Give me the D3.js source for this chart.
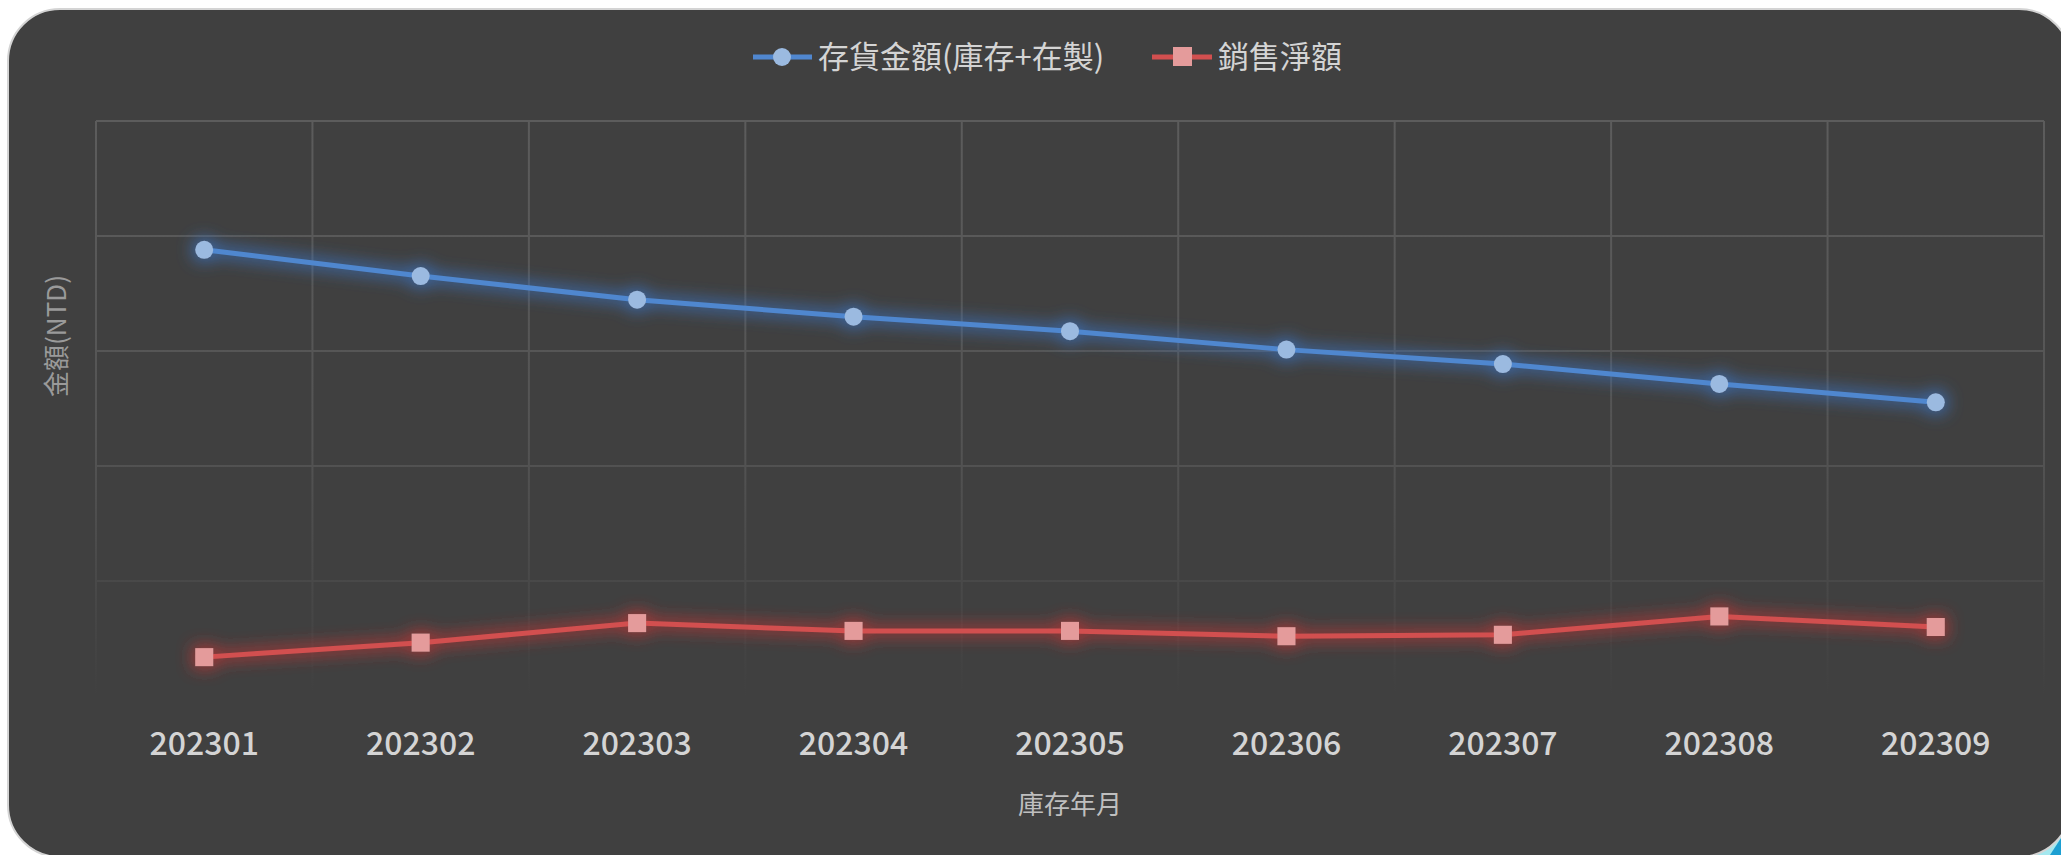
<!DOCTYPE html>
<html>
<head>
<meta charset="utf-8">
<script src="https://cdn.jsdelivr.net/npm/d3@7"></script>
<style>
  body { margin: 0; background: #fff; overflow: hidden; }
  text { font-family: "Noto Sans CJK TC", "Noto Sans", sans-serif; }
</style>
</head>
<body>
<script>
// data (values in 百萬 NTD, axis labels are hidden in the original)
const months = ["202301", "202302", "202303", "202304", "202305", "202306", "202307", "202308", "202309"];
const inventory = [194.0, 182.6, 172.3, 164.9, 158.6, 150.6, 144.3, 135.7, 127.7];
const sales = [16.9, 23.2, 31.7, 28.3, 28.3, 26.0, 26.6, 34.6, 30.0];
const yTicks = [0, 50, 100, 150, 200, 250];
const seriesNames = ["存貨金額(庫存+在製)", "銷售淨額"];

const W = 2061, H = 855;
const m = {top: 121, bottom: 159, left: 96, right: 17};

const svg = d3.select("body")
    .append("svg")
    .attr("width", W)
    .attr("height", H);

const defs = svg.append("defs");

const grad = defs.append("linearGradient")
    .attr("id", "gridFade")
    .attr("gradientUnits", "userSpaceOnUse")
    .attr("x1", 0).attr("x2", 0)
    .attr("y1", m.top).attr("y2", H - m.bottom);
grad.append("stop").attr("offset", "0%").attr("stop-color", "#5c5c5c");
grad.append("stop").attr("offset", "55%").attr("stop-color", "#545454");
grad.append("stop").attr("offset", "100%").attr("stop-color", "#404040");

function glow(id, color) {
    const f = defs.append("filter").attr("id", id)
        .attr("x", "-10%").attr("y", "-80%").attr("width", "120%").attr("height", "260%");
    f.append("feMorphology").attr("in", "SourceAlpha").attr("operator", "dilate").attr("radius", 3).attr("result", "d");
    f.append("feGaussianBlur").attr("in", "d").attr("stdDeviation", 8).attr("result", "b");
    f.append("feFlood").attr("flood-color", color).attr("flood-opacity", 0.75);
    f.append("feComposite").attr("in2", "b").attr("operator", "in").attr("result", "g");
    const mg = f.append("feMerge");
    mg.append("feMergeNode").attr("in", "g");
    mg.append("feMergeNode").attr("in", "SourceGraphic");
}
glow("glowBlue", "#3a74c4");
glow("glowRed", "#c23434");

// little cyan bit showing at the bottom-right corner
svg.append("path")
    .attr("d", `M2028,${H} L${W},${H} L${W},822 Z`)
    .attr("fill", "#a4e8ef");
svg.append("path")
    .attr("d", `M2050,${H} L${W},${H} L${W},838 Z`)
    .attr("fill", "#1c9fd2");

// card
svg.append("rect")
    .attr("x", 8).attr("y", 9)
    .attr("width", 2063).attr("height", 848)
    .attr("rx", 52)
    .attr("fill", "#404040")
    .attr("stroke", "#d4d4d4")
    .attr("stroke-width", 2);

const x = d3.scaleBand()
    .domain(months)
    .range([m.left, W - m.right])
    .padding(0);

const y = d3.scaleLinear()
    .domain([0, 250])
    .range([H - m.bottom, m.top]);

const cx = d => x(d) + x.bandwidth() / 2;

// grid
const grid = svg.append("g").attr("stroke", "url(#gridFade)").attr("stroke-width", 2);
grid.selectAll(".hl")
    .data(yTicks.filter(t => t > 0))
    .enter()
    .append("line")
    .attr("x1", m.left).attr("x2", W - m.right)
    .attr("y1", d => y(d)).attr("y2", d => y(d));
const edges = months.map(d => x(d)).concat([x(months[months.length - 1]) + x.bandwidth()]);
grid.selectAll(".vl")
    .data(edges)
    .enter()
    .append("line")
    .attr("x1", d => d).attr("x2", d => d)
    .attr("y1", m.top).attr("y2", H - m.bottom);

// x axis labels
const xAxis = svg.append("g")
    .attr("transform", `translate(0, ${H - m.bottom})`)
    .call(d3.axisBottom(x).tickSize(0).tickPadding(36));
xAxis.select(".domain").remove();
xAxis.selectAll("text")
    .attr("fill", "#d4d4d4")
    .attr("font-size", 32)
    .attr("font-weight", 500)
    .style("font-family", "'Noto Sans CJK TC', sans-serif");

// axis titles
svg.append("text")
    .attr("x", (m.left + W - m.right) / 2)
    .attr("y", 814)
    .attr("text-anchor", "middle")
    .attr("fill", "#bfbfbf")
    .attr("font-size", 26)
    .text("庫存年月");

svg.append("text")
    .attr("transform", "translate(66, 336) rotate(-90)")
    .attr("text-anchor", "middle")
    .attr("fill", "#9a9a9a")
    .attr("font-size", 26)
    .text("金額(NTD)");

// series
const line = d3.line().x(d => cx(d.m)).y(d => y(d.v));
const invData = months.map((mm, i) => ({m: mm, v: inventory[i]}));
const salesData = months.map((mm, i) => ({m: mm, v: sales[i]}));

const gBlue = svg.append("g").attr("filter", "url(#glowBlue)");
gBlue.append("path")
    .datum(invData)
    .attr("d", line)
    .attr("fill", "none")
    .attr("stroke", "#5087cf")
    .attr("stroke-width", 5);
gBlue.selectAll("circle")
    .data(invData)
    .enter()
    .append("circle")
    .attr("cx", d => cx(d.m))
    .attr("cy", d => y(d.v))
    .attr("r", 9)
    .attr("fill", "#9bbae0");

const gRed = svg.append("g").attr("filter", "url(#glowRed)");
gRed.append("path")
    .datum(salesData)
    .attr("d", line)
    .attr("fill", "none")
    .attr("stroke", "#d24f4f")
    .attr("stroke-width", 5);
gRed.selectAll("rect")
    .data(salesData)
    .enter()
    .append("rect")
    .attr("x", d => cx(d.m) - 9)
    .attr("y", d => y(d.v) - 9)
    .attr("width", 18)
    .attr("height", 18)
    .attr("fill", "#e49b9b");

// legend
const legY = 57;
const leg1 = svg.append("g");
leg1.append("line").attr("x1", 753).attr("x2", 812).attr("y1", legY).attr("y2", legY)
    .attr("stroke", "#5087cf").attr("stroke-width", 5);
leg1.append("circle").attr("cx", 782).attr("cy", legY).attr("r", 9).attr("fill", "#9bbae0");
leg1.append("text").attr("x", 818).attr("y", legY + 11)
    .attr("fill", "#d4d4d4").attr("font-size", 31).text(seriesNames[0]);

const leg2 = svg.append("g");
leg2.append("line").attr("x1", 1152).attr("x2", 1212).attr("y1", legY).attr("y2", legY)
    .attr("stroke", "#d24f4f").attr("stroke-width", 5);
leg2.append("rect").attr("x", 1173).attr("y", legY - 10).attr("width", 19).attr("height", 19)
    .attr("fill", "#e49b9b");
leg2.append("text").attr("x", 1218).attr("y", legY + 11)
    .attr("fill", "#d4d4d4").attr("font-size", 31).text(seriesNames[1]);
</script>
</body>
</html>
